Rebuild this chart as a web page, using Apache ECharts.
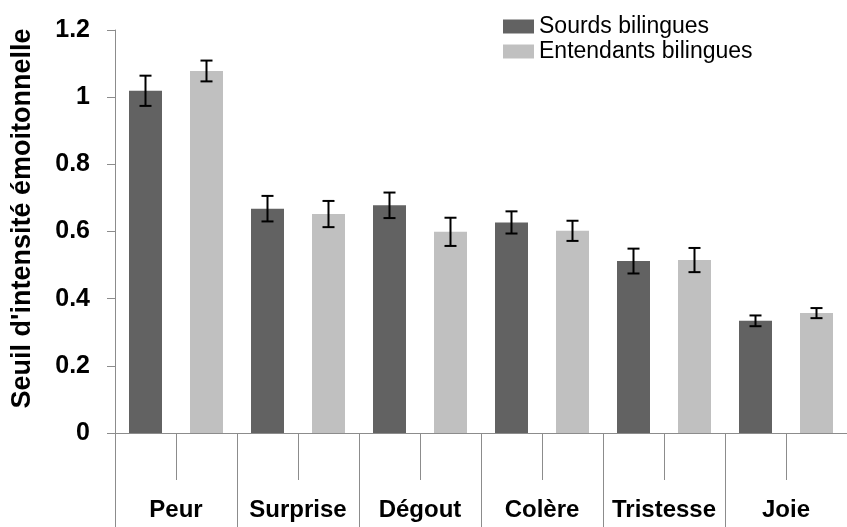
<!DOCTYPE html>
<html>
<head>
<meta charset="utf-8">
<script src="https://cdn.jsdelivr.net/npm/echarts@6/dist/echarts.min.js"></script>
<style>
html,body{margin:0;padding:0;background:#fff;}
#chart{width:847px;height:527px;}
</style>
</head>
<body>
<div id="chart"></div>
<script>
var categories = ['Peur', 'Surprise', 'Dégout', 'Colère', 'Tristesse', 'Joie'];
var seriesNames = ['Sourds bilingues', 'Entendants bilingues'];
var sourdsValues = [1.019, 0.668, 0.678, 0.627, 0.512, 0.334];
var sourdsErrors = [0.045, 0.038, 0.038, 0.033, 0.037, 0.016];
var entendantsValues = [1.078, 0.652, 0.599, 0.602, 0.515, 0.357];
var entendantsErrors = [0.031, 0.039, 0.042, 0.030, 0.036, 0.015];
var yTicks = [0, 0.2, 0.4, 0.6, 0.8, 1, 1.2];

var FONT = 'Arial, "Liberation Sans", sans-serif';
var AXIS_GREY = '#8c8c8c';

// Inner level: one slot per bar
var innerCats = [];
var darkData = [];
var lightData = [];
var errData = [];
categories.forEach(function (c, i) {
  innerCats.push(c + '-1', c + '-2');
  darkData.push(sourdsValues[i], '-');
  lightData.push('-', entendantsValues[i]);
  errData.push([2 * i, sourdsValues[i] - sourdsErrors[i], sourdsValues[i] + sourdsErrors[i]]);
  errData.push([2 * i + 1, entendantsValues[i] - entendantsErrors[i], entendantsValues[i] + entendantsErrors[i]]);
});

var chart = echarts.init(document.getElementById('chart'));
chart.setOption({
  animation: false,
  backgroundColor: '#ffffff',
  textStyle: { fontFamily: FONT },
  grid: { left: 115, top: 30, bottom: 94, width: 741, containLabel: false },
  legend: {
    orient: 'vertical',
    left: 503,
    top: 15,
    padding: 0,
    itemWidth: 31,
    itemHeight: 14,
    itemGap: 2,
    icon: 'rect',
    data: seriesNames,
    textStyle: { fontFamily: FONT, fontSize: 23, color: '#000' }
  },
  xAxis: [
    {
      type: 'category',
      data: innerCats,
      boundaryGap: true,
      axisLine: { show: true, lineStyle: { color: AXIS_GREY, width: 1 } },
      axisTick: { show: true, interval: 0, length: 47, lineStyle: { color: AXIS_GREY, width: 1 } },
      axisLabel: { show: false },
      splitLine: { show: false }
    },
    {
      type: 'category',
      data: categories,
      position: 'bottom',
      boundaryGap: true,
      axisLine: { show: false },
      axisTick: { show: true, interval: 0, length: 110, lineStyle: { color: AXIS_GREY, width: 1 } },
      axisLabel: {
        show: true, interval: 0, margin: 65,
        fontFamily: FONT, fontWeight: 'bold', fontSize: 24, color: '#000'
      },
      splitLine: { show: false }
    }
  ],
  yAxis: {
    type: 'value',
    min: yTicks[0],
    max: yTicks[yTicks.length - 1],
    interval: 0.2,
    name: "Seuil d'intensité émoitonnelle",
    nameLocation: 'middle',
    nameGap: 79,
    nameTextStyle: { fontFamily: FONT, fontWeight: 'bold', fontSize: 27, color: '#000', padding: [0, 0, 0, 26] },
    axisLine: { show: true, lineStyle: { color: AXIS_GREY, width: 1 } },
    axisTick: { show: true, length: 8, lineStyle: { color: AXIS_GREY, width: 1 } },
    axisLabel: {
      margin: 25,
      fontFamily: FONT, fontWeight: 'bold', fontSize: 25, color: '#000',
      formatter: function (v) { return String(Math.round(v * 10) / 10); }
    },
    splitLine: { show: false }
  },
  series: [
    {
      name: seriesNames[0],
      type: 'bar',
      xAxisIndex: 0,
      data: darkData,
      barWidth: 33,
      barGap: '-100%',
      itemStyle: { color: '#626262' }
    },
    {
      name: seriesNames[1],
      type: 'bar',
      xAxisIndex: 0,
      data: lightData,
      barWidth: 33,
      barGap: '-100%',
      itemStyle: { color: '#c0c0c0' }
    },
    {
      type: 'custom',
      xAxisIndex: 0,
      data: errData,
      z: 10,
      renderItem: function (params, api) {
        var x = api.value(0);
        var lo = api.coord([x, api.value(1)]);
        var hi = api.coord([x, api.value(2)]);
        var half = 6;
        var style = { stroke: '#000', lineWidth: 2 };
        return {
          type: 'group',
          children: [
            { type: 'line', shape: { x1: lo[0], y1: lo[1], x2: hi[0], y2: hi[1] }, style: style },
            { type: 'line', shape: { x1: lo[0] - half, y1: lo[1], x2: lo[0] + half, y2: lo[1] }, style: style },
            { type: 'line', shape: { x1: hi[0] - half, y1: hi[1], x2: hi[0] + half, y2: hi[1] }, style: style }
          ]
        };
      }
    }
  ]
});
</script>
</body>
</html>
